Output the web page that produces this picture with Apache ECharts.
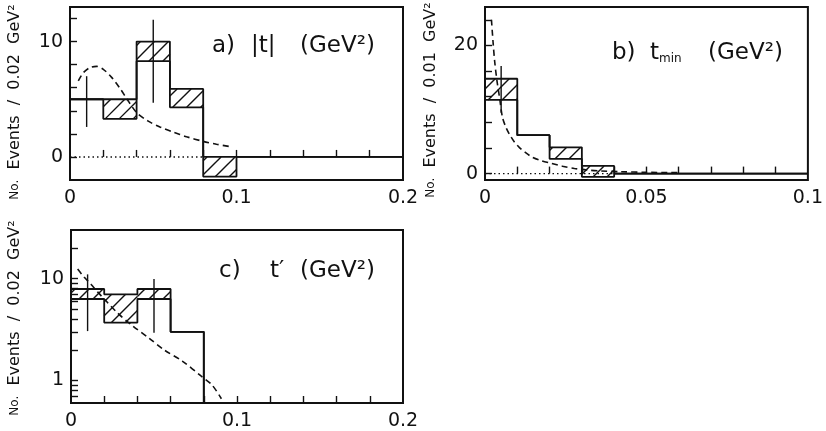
<!DOCTYPE html>
<html>
<head>
<meta charset="utf-8">
<script src="https://cdn.jsdelivr.net/npm/echarts@6/dist/echarts.min.js"></script>
<style>
  html, body { margin: 0; padding: 0; background: #fff; }
  #chart { width: 826px; height: 431px; }
</style>
</head>
<body>
<div id="chart"></div>
<script>
// ---- a) |t| distribution, bins of 0.02 GeV^2 ----
const aEdges = [0, 0.02, 0.04, 0.06, 0.08, 0.10, 0.20];
const aUpper = [5, 5, 10, 5.9, 0, 0];
const aLower = [5, 3.3, 8.3, 4.3, -1.7, 0];
const aErrX = [0.01, 0.05];
const aErrLo = [2.6, 4.7];
const aErrHi = [7.0, 11.9];
const aFitX = [0.005, 0.008, 0.012, 0.016, 0.020, 0.025, 0.030, 0.035, 0.040, 0.047, 0.054, 0.062, 0.070, 0.080, 0.088, 0.096];
const aFitY = [6.6, 7.3, 7.75, 7.85, 7.6, 6.9, 5.95, 4.85, 3.85, 3.1, 2.6, 2.15, 1.75, 1.35, 1.1, 0.9];

// ---- b) t_min distribution, bins of 0.01 GeV^2 ----
const bEdges = [0, 0.01, 0.02, 0.03, 0.04, 0.10];
const bUpper = [14.8, 6, 4.1, 1.2, 0];
const bLower = [11.5, 6, 2.3, -0.5, 0];
const bErrX = [0.005];
const bErrLo = [9.5];
const bErrHi = [16.8];
const bFitX = [0.002, 0.0025, 0.003, 0.0037, 0.0045, 0.0054, 0.0065, 0.0075, 0.009, 0.0106, 0.0125, 0.0145, 0.0175, 0.0205, 0.024, 0.0277, 0.0317, 0.036, 0.042, 0.05, 0.06];
const bFitY = [24, 20.5, 17.5, 14.5, 11.9, 8.8, 7.2, 6.2, 5.0, 4.1, 3.3, 2.6, 2.0, 1.6, 1.15, 0.8, 0.55, 0.4, 0.3, 0.2, 0.15];

// ---- c) t' distribution (log scale), bins of 0.02 GeV^2 ----
const EMPTY_LOG = 0.01; // empty bins sit below the log-axis floor
const cEdges = [0, 0.02, 0.04, 0.06, 0.08, 0.20];
const cUpper = [7.9, 7.0, 7.9, 3.0, EMPTY_LOG];
const cLower = [6.3, 3.7, 6.3, 3.0, EMPTY_LOG];
const cErrX = [0.01, 0.05];
const cErrLo = [3.05, 2.94];
const cErrHi = [11.0, 9.9];
const cFitX = [0.004, 0.008, 0.012, 0.016, 0.020, 0.028, 0.037, 0.047, 0.056, 0.067, 0.0785, 0.085, 0.0906];
const cFitY = [12.4, 10.3, 8.8, 7.4, 6.3, 4.6, 3.45, 2.6, 2.0, 1.55, 1.1, 0.9, 0.66];

// ---- axis ticks and labels ----
const abXTicks = [0.02, 0.04, 0.06, 0.08, 0.10, 0.12, 0.14, 0.16, 0.18];
const abXLabels = [0, 0.1, 0.2];
const bXTicks = [0.01, 0.02, 0.03, 0.04, 0.05, 0.06, 0.07, 0.08, 0.09];
const bXLabels = [0, 0.05, 0.1];
const aYTicks = [0, 2, 4, 6, 8, 10, 12];
const aYLabels = [0, 10];
const bYTicks = [0, 4, 8, 12, 16, 20, 24];
const bYLabels = [0, 20];
const cYTicks = [0.7, 0.8, 0.9, 1, 2, 3, 4, 5, 6, 7, 8, 9, 10, 20];
const cYLabels = [1, 10];

const FONT = 'DejaVu Sans';
const INK = '#111';

function stepPoints(edges, vals) {
  return edges.map((e, i) => [e, vals[Math.min(i, vals.length - 1)]]);
}
function hatchBins(edges, lo, hi) {
  const out = [];
  for (let i = 0; i < lo.length; i++) {
    if (hi[i] > lo[i]) out.push([edges[i], edges[i + 1], lo[i], hi[i]]);
  }
  return out;
}
function zip(xs, ys) { return xs.map((x, i) => [x, ys[i]]); }
function errData(xs, lo, hi) { return xs.map((x, i) => [x, lo[i], hi[i]]); }
function fmtNum(v) { return v === 0 ? '0' : String(+(+v).toFixed(3)); }

// diagonal "/" hatch clipped to the bin box
const HATCH_GAP = 14;
function renderHatch(params, api) {
  const p0 = api.coord([api.value(0), api.value(3)]);
  const p1 = api.coord([api.value(1), api.value(2)]);
  const x0 = Math.min(p0[0], p1[0]), x1 = Math.max(p0[0], p1[0]);
  const yT = Math.min(p0[1], p1[1]), yB = Math.max(p0[1], p1[1]);
  const children = [];
  const cStart = Math.ceil((x0 + yT) / HATCH_GAP) * HATCH_GAP;
  for (let c = cStart; c <= x1 + yB; c += HATCH_GAP) {
    const xa = Math.max(x0, c - yB);
    const xb = Math.min(x1, c - yT);
    if (xb - xa < 0.5) continue;
    children.push({
      type: 'line',
      shape: { x1: xa, y1: c - xa, x2: xb, y2: c - xb },
      style: { stroke: INK, lineWidth: 1.4 }
    });
  }
  return { type: 'group', children };
}
function renderErr(params, api) {
  const a = api.coord([api.value(0), api.value(1)]);
  const b = api.coord([api.value(0), api.value(2)]);
  return {
    type: 'line',
    shape: { x1: a[0], y1: a[1], x2: b[0], y2: b[1] },
    style: { stroke: INK, lineWidth: 1.4 }
  };
}

function xAxis(gi, max, ticks, labels) {
  return {
    type: 'value', gridIndex: gi, min: 0, max: max,
    axisLine: { show: false },
    splitLine: { show: false },
    axisTick: { show: true, inside: true, length: 7, customValues: ticks, lineStyle: { color: INK, width: 1.4 } },
    axisLabel: { customValues: labels, margin: 9, color: INK, fontFamily: FONT, fontSize: 19, formatter: fmtNum, showMaxLabel: true, showMinLabel: true }
  };
}
function yAxis(gi, type, min, max, ticks, labels) {
  return {
    type: type, gridIndex: gi, min: min, max: max,
    axisLine: { show: false },
    splitLine: { show: false },
    axisTick: { show: true, inside: true, length: 7, customValues: ticks, lineStyle: { color: INK, width: 1.4 } },
    axisLabel: { customValues: labels, margin: 7, color: INK, fontFamily: FONT, fontSize: 19, formatter: fmtNum }
  };
}

function panelSeries(idx, edges, up, lo, errs, fit, dotTo) {
  const s = [
    { type: 'custom', xAxisIndex: idx, yAxisIndex: idx, renderItem: renderHatch, data: hatchBins(edges, lo, up), silent: true },
    { type: 'line', xAxisIndex: idx, yAxisIndex: idx, step: 'end', symbol: 'none', data: stepPoints(edges, up), lineStyle: { color: INK, width: 1.8 } },
    { type: 'line', xAxisIndex: idx, yAxisIndex: idx, step: 'end', symbol: 'none', data: stepPoints(edges, lo), lineStyle: { color: INK, width: 1.8 } },
    { type: 'custom', xAxisIndex: idx, yAxisIndex: idx, renderItem: renderErr, data: errs, silent: true },
    { type: 'line', xAxisIndex: idx, yAxisIndex: idx, smooth: 0.3, symbol: 'none', data: fit, lineStyle: { color: INK, width: 1.6, type: [6, 4] } }
  ];
  if (dotTo) {
    s.push({ type: 'line', xAxisIndex: idx, yAxisIndex: idx, symbol: 'none', data: [[0, 0], [dotTo, 0]], lineStyle: { color: INK, width: 1.4, type: [1.5, 3] } });
  }
  return s;
}

function label(x, y, text, size) {
  return { type: 'text', x: x, y: y, silent: true,
    style: { text: text, fill: INK, fontFamily: FONT, fontSize: size, align: 'left', verticalAlign: 'middle' } };
}
function yTitle(x, y, bin) {
  return { type: 'text', x: x, y: y, rotation: Math.PI / 2, silent: true,
    style: { text: '{s|No.}  Events  /  ' + bin + '  GeV²', fill: INK, fontFamily: FONT, fontSize: 16,
      align: 'center', verticalAlign: 'middle', rich: { s: { fontSize: 12, fontFamily: FONT, fill: INK } } } };
}

const chart = echarts.init(document.getElementById('chart'), null, { renderer: 'canvas' });
const gridStyle = { show: true, borderColor: INK, borderWidth: 2, backgroundColor: 'transparent' };
chart.setOption({
  animation: false,
  backgroundColor: '#fff',
  grid: [
    Object.assign({ left: 70, top: 7, width: 333, height: 173 }, gridStyle),
    Object.assign({ left: 485, top: 7, width: 332, height: 173 }, gridStyle),
    Object.assign({ left: 71, top: 230, width: 332, height: 173 }, gridStyle)
  ],
  xAxis: [
    xAxis(0, 0.2, abXTicks, abXLabels),
    xAxis(1, 0.1, bXTicks, bXLabels),
    xAxis(2, 0.2, abXTicks, abXLabels)
  ],
  yAxis: [
    yAxis(0, 'value', -2, 13, aYTicks, aYLabels),
    yAxis(1, 'value', -1, 26, bYTicks, bYLabels),
    Object.assign(yAxis(2, 'log', 0.6, 30, cYTicks, cYLabels), { logBase: 10 })
  ],
  series: [].concat(
    panelSeries(0, aEdges, aUpper, aLower, errData(aErrX, aErrLo, aErrHi), zip(aFitX, aFitY), 0.08),
    panelSeries(1, bEdges, bUpper, bLower, errData(bErrX, bErrLo, bErrHi), zip(bFitX, bFitY), 0.04),
    panelSeries(2, cEdges, cUpper, cLower, errData(cErrX, cErrLo, cErrHi), zip(cFitX, cFitY), null)
  ),
  graphic: [
    yTitle(15, 102, '0.02'),
    yTitle(431, 100, '0.01'),
    yTitle(15, 318, '0.02'),
    label(212, 46, 'a)', 23),
    label(251, 46, '|t|', 23),
    label(300, 46, '(GeV²)', 23),
    label(612, 53, 'b)', 23),
    label(650, 53, 't', 23),
    label(659, 59, 'min', 12),
    label(708, 53, '(GeV²)', 23),
    label(219, 271, 'c)', 23),
    label(270, 271, 't′', 23),
    label(300, 271, '(GeV²)', 23)
  ]
});
</script>
</body>
</html>
